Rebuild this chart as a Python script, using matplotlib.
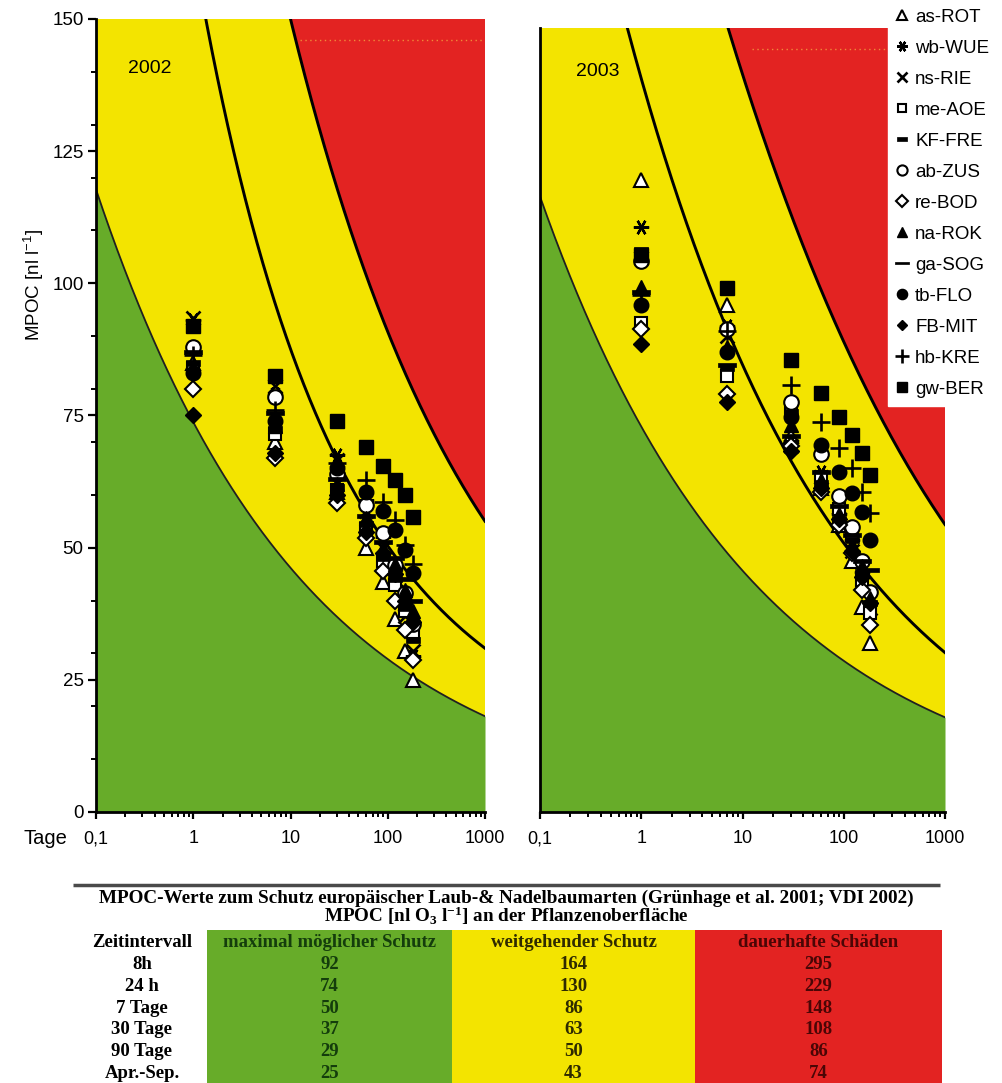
import numpy as np
import matplotlib
matplotlib.use("Agg")
import matplotlib.pyplot as plt
from matplotlib.patches import Rectangle
from matplotlib.ticker import LogLocator, NullFormatter, MultipleLocator

plt.rcParams['font.family'] = ['Liberation Sans', 'DejaVu Sans']
plt.rcParams['mathtext.default'] = 'regular'

# ---------------- data ----------------
days = [1, 7, 30, 60, 90, 120, 150, 183]
stations = ["as-ROT", "wb-WUE", "ns-RIE", "me-AOE", "KF-FRE", "ab-ZUS", "re-BOD",
            "na-ROK", "ga-SOG", "tb-FLO", "FB-MIT", "hb-KRE", "gw-BER"]

# 2002
as_ROT_2002 = [85, 70, 60.5, 50, 43.5, 36.5, 30.5, 25]
wb_WUE_2002 = [93, 79, 67.5, 59, 52, 46, 39.5, 29.5]
ns_RIE_2002 = [93.5, 80.5, 66.5, 57, 50, 44, 37, 30.5]
me_AOE_2002 = [84, 71.5, 61, 53.5, 47.5, 43, 38, 34]
KF_FRE_2002 = [85, 72.5, 61.5, 54.5, 48, 44, 38.5, 32.5]
ab_ZUS_2002 = [88, 78.5, 64, 58, 52.8, 46.7, 41.4, 35.5]
re_BOD_2002 = [80, 67, 58.5, 51.8, 45.5, 40, 34.5, 28.7]
na_ROK_2002 = [84, 73, 62, 55.6, 50, 47, 42, 38]
ga_SOG_2002 = [87, 75.5, 63, 56, 51, 48, 44, 40]
tb_FLO_2002 = [83, 74, 65, 60.5, 57, 53.3, 49.6, 45.2]
FB_MIT_2002 = [75, 68, 60, 53, 49, 45, 40, 36]
hb_KRE_2002 = [86.5, 76, 66, 62.8, 58.6, 55.2, 50.5, 47]
gw_BER_2002 = [92, 82.5, 74, 69, 65.5, 62.8, 60, 55.8]

# 2003
as_ROT_2003 = [121, 97, 72, 62, 55, 48, 39.2, 32.3]
wb_WUE_2003 = [112, 93, 71, 65, 57, 52, 46, 40]
ns_RIE_2003 = [106, 91, 70, 64, 56, 50, 44, 39]
me_AOE_2003 = [93.5, 83.5, 77, 64, 58, 53, 44.4, 38]
KF_FRE_2003 = [107.5, 85, 76.5, 63, 56, 52, 46, 40]
ab_ZUS_2003 = [105.5, 92.5, 78.5, 68.5, 60.5, 54.5, 48, 42]
re_BOD_2003 = [92.5, 80, 70, 61.2, 55, 49.5, 42.5, 35.8]
na_ROK_2003 = [100.5, 89, 74, 63.5, 57, 51, 47, 41]
ga_SOG_2003 = [99.5, 85.5, 72, 65, 58.5, 53, 48, 46.3]
tb_FLO_2003 = [97, 88, 75.5, 70.2, 65, 61, 57.4, 52]
FB_MIT_2003 = [89.5, 78.5, 69, 62, 56, 50, 45, 40]
hb_KRE_2003 = [99, 92, 81.7, 74.6, 69.6, 65.8, 61.2, 57.2]
gw_BER_2003 = [106.5, 100.2, 86.5, 80.2, 75.6, 72.1, 68.7, 64.5]

# boundary curves (per panel)
lower_days = [0.1, 1, 10, 100, 1000]
lower_vals = [117, 74, 46.5, 29, 18]
middle_days_2002 = [1.55, 4.5, 25, 90, 370, 1000]
middle_vals_2002 = [150, 100.6, 70.4, 53.9, 36.9, 31]
middle_days_2003 = [0.74, 4.5, 25, 90, 370, 1000]
middle_vals_2003 = [150, 100.6, 70.4, 53.9, 36.9, 31]
upper_days_2002 = [10, 285, 1000]
upper_vals_2002 = [150, 72.3, 55]
upper_days_2003 = [7.2, 285, 1000]
upper_vals_2003 = [150, 72.3, 55]
warn_level = 146

x_ticks = [0.1, 1, 10, 100, 1000]
x_ticklabels = ["0,1", "1", "10", "100", "1000"]

# table
table_rows = ["8h", "24 h", "7 Tage", "30 Tage", "90 Tage", "Apr.-Sep."]
max_schutz = [92, 74, 50, 37, 29, 25]
weitgehend = [164, 130, 86, 63, 50, 43]
dauerhaft = [295, 229, 148, 108, 86, 74]
col_heads = ["maximal möglicher Schutz", "weitgehender Schutz", "dauerhafte Schäden"]

data2002 = [as_ROT_2002, wb_WUE_2002, ns_RIE_2002, me_AOE_2002, KF_FRE_2002, ab_ZUS_2002,
            re_BOD_2002, na_ROK_2002, ga_SOG_2002, tb_FLO_2002, FB_MIT_2002, hb_KRE_2002, gw_BER_2002]
data2003 = [as_ROT_2003, wb_WUE_2003, ns_RIE_2003, me_AOE_2003, KF_FRE_2003, ab_ZUS_2003,
            re_BOD_2003, na_ROK_2003, ga_SOG_2003, tb_FLO_2003, FB_MIT_2003, hb_KRE_2003, gw_BER_2003]

# ---------------- styles ----------------
GREEN = '#67ac29'
YELLOW = '#f3e400'
RED = '#e32322'

kf_marker = [(-1, -0.5), (1, -0.5), (1, 0.5), (-1, 0.5), (-1, -0.5)]
ga_marker = [(-1, -0.2), (1, -0.2), (1, 0.2), (-1, 0.2), (-1, -0.2)]
styles = [
    dict(marker='^', ms=10, mfc='white', mew=1.5),
    dict(marker=(6, 2, 90), ms=11, mfc='k', mew=1.7),
    dict(marker='x', ms=9.5, mfc='k', mew=1.9),
    dict(marker='s', ms=8.5, mfc='white', mew=1.5),
    dict(marker=kf_marker, ms=9.5, mfc='k', mew=0.5),
    dict(marker='o', ms=10.5, mfc='white', mew=1.5),
    dict(marker='D', ms=8.5, mfc='white', mew=1.5),
    dict(marker='^', ms=10, mfc='k', mew=1.0),
    dict(marker=ga_marker, ms=13.5, mfc='k', mew=0.5),
    dict(marker='o', ms=10.5, mfc='k', mew=1.0),
    dict(marker='D', ms=8, mfc='k', mew=1.0),
    dict(marker='+', ms=13.5, mfc='k', mew=1.9),
    dict(marker='s', ms=9.5, mfc='k', mew=1.0),
]

W, H = 1002, 1083
fig = plt.figure(figsize=(W / 100, H / 100), dpi=100)


def fbox(x0, y0, x1, y1):
    return [x0 / W, 1 - y1 / H, (x1 - x0) / W, (y1 - y0) / H]


def fit(dd, vv, deg=1):
    c = np.polyfit(np.log(dd), np.log(vv), deg)
    return lambda t: np.exp(np.polyval(c, np.log(t)))


f_lo = fit(lower_days, lower_vals)
curves = {
    "2002": (fit(middle_days_2002, middle_vals_2002, 2), fit(upper_days_2002, upper_vals_2002)),
    "2003": (fit(middle_days_2003, middle_vals_2003, 2), fit(upper_days_2003, upper_vals_2003, 2)),
}

axL = fig.add_axes(fbox(96, 19, 485, 812))
axR = fig.add_axes(fbox(540, 28, 945, 812))

handles = []
for ax, data, year, xpos, ypos in [(axL, data2002, "2002", 0.139, 0.938),
                                   (axR, data2003, "2003", 0.143, 0.944)]:
    f_mid, f_up = curves[year]
    t = np.logspace(-1, 3, 600)
    lo, mid, up = f_lo(t), f_mid(t), f_up(t)
    ax.fill_between(t, 0, lo, color=GREEN, lw=0, zorder=0)
    ax.fill_between(t, lo, up, color=YELLOW, lw=0, zorder=0)
    ax.fill_between(t, up, 500, color=RED, lw=0, zorder=0)
    ax.plot(t, lo, color='#202020', lw=1.3, zorder=1)
    ax.plot(t, mid, color='k', lw=2.1, zorder=1)
    ax.plot(t, up, color='k', lw=2.1, zorder=1)
    ax.hlines(warn_level, 12.5, 950, colors='#f08a3a', linestyles=(0, (1, 2.5)), lw=1.0, zorder=1)
    hs = []
    for vals, st in zip(data, styles):
        h, = ax.plot(days, vals, ls='none', mec='k', zorder=3, clip_on=False, **st)
        hs.append(h)
    if not handles:
        handles = hs
    ax.set_xscale('log')
    ax.set_xlim(0.1, 1000)
    ax.set_ylim(0, 150)
    ax.set_xticks(x_ticks)
    ax.set_xticklabels(x_ticklabels)
    ax.xaxis.set_minor_locator(LogLocator(base=10, subs=np.arange(2, 10)))
    ax.xaxis.set_minor_formatter(NullFormatter())
    ax.tick_params(axis='x', which='major', direction='out', length=5, width=1.6, pad=8, labelsize=13)
    ax.tick_params(axis='x', which='minor', direction='out', length=3.5, width=1.4)
    for s in ['top', 'right']:
        ax.spines[s].set_visible(False)
    for s in ['left', 'bottom']:
        ax.spines[s].set_linewidth(2.0)
    ax.text(xpos, ypos, year, transform=ax.transAxes, ha='center', va='center', fontsize=14)

axL.set_yticks([0, 25, 50, 75, 100, 125, 150])
axL.yaxis.set_minor_locator(MultipleLocator(10))
axL.tick_params(axis='y', which='major', direction='out', length=6, width=1.6, pad=3, labelsize=13.5)
axL.tick_params(axis='y', which='minor', direction='out', length=3.5, width=1.4)
axR.set_yticks([])

fig.text(34 / W, 1 - 285 / H, 'MPOC [nl l$^{-1}$]', rotation=90, ha='center', va='center', fontsize=13.5)
fig.text(45 / W, 1 - 838 / H, 'Tage', ha='center', va='center', fontsize=14.5)

leg = fig.legend(handles, stations, loc='upper left', bbox_to_anchor=(888 / W, 1.0),
                 frameon=True, facecolor='white', edgecolor='white', framealpha=1, fancybox=False,
                 fontsize=13.5, handlelength=0.6, handletextpad=0.4, labelspacing=0.74,
                 borderpad=0.45, borderaxespad=0, markerscale=0.7)

# ---------------- table ----------------
axT = fig.add_axes([0, 0, 1, 1 - 878 / H])
axT.set_xlim(0, W)
axT.set_ylim(H, 878)
axT.axis('off')
serif = dict(family=['Liberation Serif', 'DejaVu Serif'], weight='bold')
axT.hlines(885, 73, 940, color='#4a4a4a', lw=2.5)
axT.text(506, 898, 'MPOC-Werte zum Schutz europäischer Laub-& Nadelbaumarten (Grünhage et al. 2001; VDI 2002)',
         ha='center', va='center', fontsize=13.8, **serif)
axT.text(506, 916, 'MPOC [nl O$_3$ l$^{-1}$] an der Pflanzenoberfläche',
         ha='center', va='center', fontsize=13.8, **serif)
col_x = [(207, 452), (452, 695), (695, 942)]
col_fc = [GREEN, YELLOW, RED]
col_tc = ['#143d0c', '#2e2a00', '#4a0606']
for (x0, x1), fc in zip(col_x, col_fc):
    axT.add_patch(Rectangle((x0, 930), x1 - x0, H - 930, facecolor=fc, edgecolor='none'))
row_y0, row_dy = 943, 21.7
axT.text(142, row_y0, 'Zeitintervall', ha='center', va='center', fontsize=13.5, **serif)
for (x0, x1), head, tc in zip(col_x, col_heads, col_tc):
    axT.text((x0 + x1) / 2, row_y0, head, ha='center', va='center', fontsize=13.5, color=tc, **serif)
for i, lab in enumerate(table_rows):
    yy = row_y0 + (i + 1) * row_dy
    axT.text(142, yy, lab, ha='center', va='center', fontsize=13.5, **serif)
    for (x0, x1), col, tc in zip(col_x, [max_schutz, weitgehend, dauerhaft], col_tc):
        axT.text((x0 + x1) / 2, yy, str(col[i]), ha='center', va='center', fontsize=13.5, color=tc, **serif)

fig.savefig('out.png', dpi=100)
